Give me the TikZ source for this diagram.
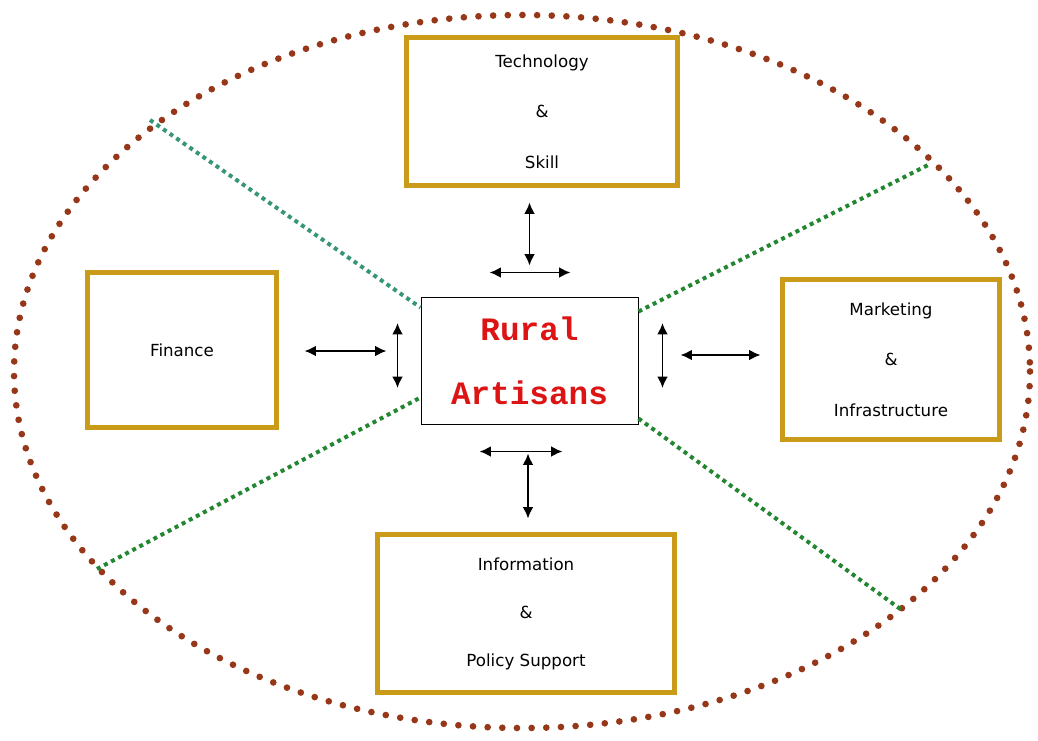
\documentclass[tikz,border=0pt]{standalone}
\usepackage{fontspec}
\setmainfont{DejaVu Sans}
\newfontfamily\monobold{Liberation Mono}
\usetikzlibrary{arrows.meta,calc}

\definecolor{boxgold}{RGB}{201,155,24}
\definecolor{ringbrown}{RGB}{150,55,25}
\definecolor{spokegreen}{RGB}{35,135,50}
\definecolor{spoketeal}{RGB}{55,150,115}
\definecolor{titlered}{RGB}{220,20,20}

\tikzset{every picture/.style={line width=0.75pt}}
\tikzset{
  factorbox/.style={draw=boxgold,line width=4pt,align=center,inner sep=0pt,font=\fontsize{12.5}{38}\selectfont},
  corebox/.style={draw=black,line width=0.75pt,fill=white,align=center,inner sep=0pt,minimum width=162.75pt,minimum height=95.25pt,text=titlered,font=\monobold\bfseries\fontsize{24.5}{48}\selectfont},
  twoway/.style={{Latex[length=8.5pt,width=8pt]}-{Latex[length=8.5pt,width=8pt]},line width=1.3pt},
  ring/.style={draw=ringbrown,line width=5pt,line cap=round,dash pattern=on 0pt off 11pt},
  spoke/.style={draw=spokegreen,line width=3pt,dash pattern=on 3pt off 3pt},
}

\begin{document}
\begin{tikzpicture}[x=0.75pt,y=0.75pt,yscale=-1,xscale=1]
\useasboundingbox (0,0) rectangle (1038,740);
%Ellipse (dotted ring)
\draw [ring] (522,371.5) ellipse [x radius=508, y radius=356.5];
%Outer ends of the spokes
\coordinate (spokeTL) at (150,120);
\coordinate (spokeTR) at (930,164);
\coordinate (spokeBL) at (97,569);
\coordinate (spokeBR) at (903,611);
%Centre box
\node [corebox] (rural) at (529.5,360.5) {Rural\\Artisans};
%Straight Lines (spokes)
\draw [spoke,draw=spoketeal] (spokeTL) -- ($(rural.north west)+(0,11)$);
\draw [spoke] ($(rural.north east)+(0,15)$) -- (spokeTR);
\draw [spoke] (spokeBL) -- ($(rural.south west)+(0,-27)$);
\draw [spoke] ($(rural.south east)+(0,-6)$) -- (spokeBR);
% Factor boxes
\node [factorbox,minimum width=203pt,minimum height=111pt] (tech) at (542,111.5) {Technology\\\&\\Skill};
\node [factorbox,minimum width=141.75pt,minimum height=116.25pt] (finance) at (182,350) {Finance};
\node [factorbox,minimum width=162.75pt,minimum height=120pt] (market) at (891,359.5) {Marketing\\\&\\Infrastructure};
\node [factorbox,minimum width=222.75pt,minimum height=118.5pt,font=\fontsize{12.5}{36}\selectfont] (info) at (526,613.5) {Information\\\&\\Policy Support};
%Double arrows round the centre box
\draw [twoway] ($(rural.north)+(0,-94)$) -- ($(rural.north)+(0,-31)$);
\draw [twoway] ($(rural.north)+(-40,-24)$) -- ($(rural.north)+(41,-24)$);
\draw [twoway] ($(rural.west)+(-116,-9.5)$) -- ($(rural.west)+(-34,-9.5)$);
\draw [twoway] ($(rural.west)+(-23,-37.5)$) -- ($(rural.west)+(-23,27.5)$);
\draw [twoway] ($(rural.east)+(24,-37.5)$) -- ($(rural.east)+(24,27.5)$);
\draw [twoway] ($(rural.east)+(42,-5.5)$) -- ($(rural.east)+(122,-5.5)$);
\draw [twoway] ($(rural.south)+(-50,27)$) -- ($(rural.south)+(33,27)$);
\draw [twoway] ($(rural.south)+(-1.5,29)$) -- ($(rural.south)+(-1.5,94)$);
\end{tikzpicture}
\end{document}
